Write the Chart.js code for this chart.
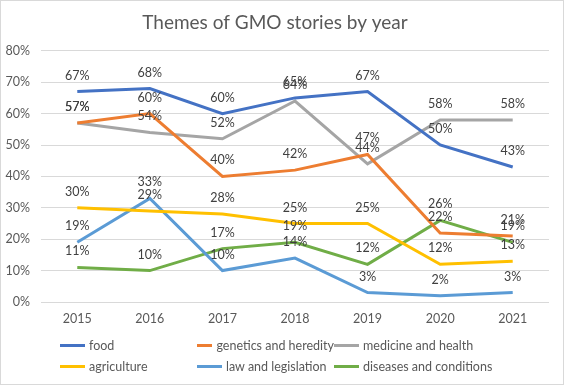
<!DOCTYPE html>
<html lang="en">
<head>
    <title>Themes of GMO stories by year</title>
    <script src="https://cdn.jsdelivr.net/npm/chart.js@4.4.8/dist/chart.umd.min.js"></script>
    <style>
        html, body { margin: 0; padding: 0; background: #fff; }
        #wrap { position: relative; width: 564px; height: 385px; box-sizing: border-box; border: 1px solid #d9d9d9; }
        #chart { position: absolute; left: 0; top: 0; }
        #legend { position: absolute; left: 59px; top: 336px; width: 480px; display: grid;
                  grid-template-columns: 137px 137px 200px; row-gap: 4px;
                  font-family: Lato, sans-serif; font-size: 12.5px; color: #595959; }
        .item { display: flex; align-items: center; height: 17px; white-space: nowrap; }
        .swatch { width: 25px; height: 3px; margin-right: 4px; }
    </style>
</head>
<body>
<div id="wrap">
    <canvas id="chart" width="562" height="383"></canvas>
    <div id="legend"></div>
</div>
<script>
    const years = ['2015', '2016', '2017', '2018', '2019', '2020', '2021'];
    const food = [67, 68, 60, 65, 67, 50, 43];
    const genetics = [57, 60, 40, 42, 47, 22, 21];
    const medicine = [57, 54, 52, 64, 44, 58, 58];
    const agriculture = [30, 29, 28, 25, 25, 12, 13];
    const law = [19, 33, 10, 14, 3, 2, 3];
    const diseases = [11, 10, 17, 19, 12, 26, 19];

    const series = [
        { label: 'food', data: food, color: '#4472C4' },
        { label: 'genetics and heredity', data: genetics, color: '#ED7D31' },
        { label: 'medicine and health', data: medicine, color: '#A5A5A5' },
        { label: 'agriculture', data: agriculture, color: '#FFC000' },
        { label: 'law and legislation', data: law, color: '#5B9BD5' },
        { label: 'diseases and conditions', data: diseases, color: '#70AD47' }
    ];

    const fontFamily = 'Lato, sans-serif';

    // labels above each point, like excel data labels
    const pointLabels = {
        id: 'pointLabels',
        afterDatasetsDraw(chart) {
            const ctx = chart.ctx;
            ctx.save();
            ctx.font = '12.5px ' + fontFamily;
            ctx.fillStyle = '#404040';
            ctx.textAlign = 'center';
            ctx.textBaseline = 'middle';
            chart.data.datasets.forEach((ds, i) => {
                chart.getDatasetMeta(i).data.forEach((pt, j) => {
                    ctx.fillText(ds.data[j] + '%', pt.x, pt.y - 16);
                });
            });
            ctx.restore();
        }
    };

    const chart = new Chart(document.getElementById('chart'), {
        type: 'line',
        data: {
            labels: years,
            datasets: series.map(s => ({
                label: s.label,
                data: s.data,
                borderColor: s.color,
                backgroundColor: s.color,
                borderWidth: 3,
                pointRadius: 0,
                tension: 0
            }))
        },
        options: {
            responsive: false,
            animation: false,
            events: [],
            layout: { padding: { left: 0, right: 14, top: 0, bottom: 0 } },
            plugins: {
                legend: { display: false },
                tooltip: { enabled: false },
                title: {
                    display: true,
                    text: 'Themes of GMO stories by year',
                    color: '#595959',
                    font: { family: fontFamily, size: 19, weight: 'normal', lineHeight: 1.2 },
                    padding: { top: 10, bottom: 17 }
                }
            },
            scales: {
                x: {
                    offset: true,
                    grid: { display: false },
                    border: { display: false },
                    ticks: { color: '#595959', font: { family: fontFamily, size: 12.5 }, padding: 1 },
                    afterFit(scale) { scale.height = 82; }
                },
                y: {
                    min: 0,
                    max: 80,
                    grid: { color: '#d9d9d9', drawTicks: false },
                    border: { display: false },
                    ticks: {
                        stepSize: 10,
                        color: '#595959',
                        font: { family: fontFamily, size: 12.5 },
                        padding: 11,
                        callback: v => v + '%'
                    },
                    afterFit(scale) { scale.width = 40; }
                }
            }
        },
        plugins: [pointLabels]
    });

    // html legend, 3 columns
    const legend = document.getElementById('legend');
    series.forEach(s => {
        const item = document.createElement('div');
        item.className = 'item';
        item.innerHTML = '<span class="swatch" style="background:' + s.color + '"></span>' + s.label;
        legend.appendChild(item);
    });
</script>
</body>
</html>
